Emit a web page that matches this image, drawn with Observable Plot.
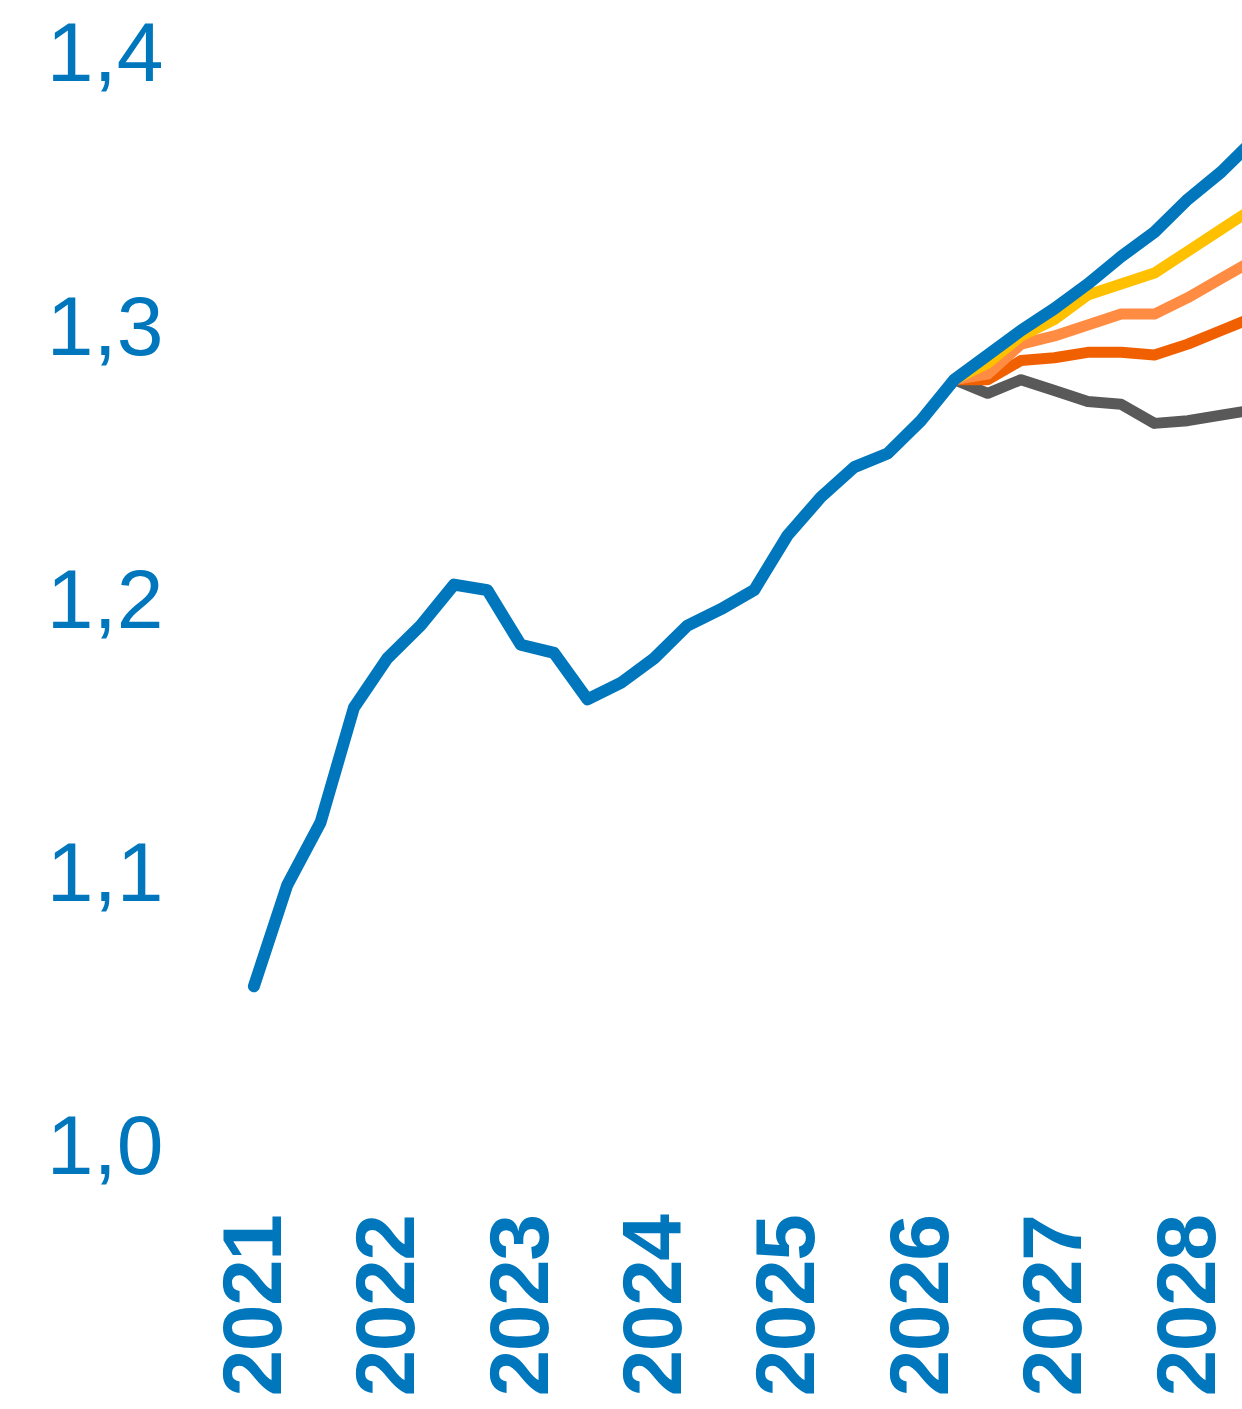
<!DOCTYPE html>
<html>
<head>
<meta charset="utf-8">
<script src="https://cdn.jsdelivr.net/npm/d3@7"></script>
<script src="https://cdn.jsdelivr.net/npm/@observablehq/plot@0.6"></script>
<style>
  html, body { margin: 0; padding: 0; background: #ffffff; }
  #chart svg { display: block; }
</style>
</head>
<body>
<div id="chart"></div>
<script>
// Quarters (decimal year) 2021Q1 .. 2028Q3
const quarters = [
  2021.00, 2021.25, 2021.50, 2021.75,
  2022.00, 2022.25, 2022.50, 2022.75,
  2023.00, 2023.25, 2023.50, 2023.75,
  2024.00, 2024.25, 2024.50, 2024.75,
  2025.00, 2025.25, 2025.50, 2025.75,
  2026.00, 2026.25, 2026.50, 2026.75,
  2027.00, 2027.25, 2027.50, 2027.75,
  2028.00, 2028.25, 2028.50
];
// Main (blue) series
const mainValues = [
  1.059, 1.096, 1.119, 1.161,
  1.179, 1.191, 1.206, 1.204,
  1.184, 1.181, 1.164, 1.170,
  1.179, 1.191, 1.197, 1.204,
  1.224, 1.238, 1.249, 1.254,
  1.266, 1.281, 1.290, 1.299,
  1.307, 1.316, 1.326, 1.335,
  1.347, 1.357, 1.369
];
// Scenario series, starting at 2026Q2 (index 21)
const scenarioStart = 21;
const yellowValues     = [1.281, 1.287, 1.297, 1.303, 1.312, 1.316, 1.320, 1.328, 1.336, 1.344];
const lightOrangeValues= [1.281, 1.283, 1.294, 1.297, 1.301, 1.305, 1.305, 1.311, 1.318, 1.325];
const darkOrangeValues = [1.281, 1.281, 1.288, 1.289, 1.291, 1.291, 1.290, 1.294, 1.299, 1.304];
const grayValues       = [1.281, 1.276, 1.281, 1.277, 1.273, 1.272, 1.265, 1.266, 1.268, 1.270];

const yTicks = [1.0, 1.1, 1.2, 1.3, 1.4];
const xTicks = [2021, 2022, 2023, 2024, 2025, 2026, 2027, 2028];

const seriesColors = {
  main: "#0077bd",
  yellow: "#ffc000",
  lightOrange: "#ff8c42",
  darkOrange: "#f06000",
  gray: "#595959"
};

const mainData = quarters.map((q, i) => ({q, v: mainValues[i]}));
const scen = (vals) => vals.map((v, i) => ({q: quarters[scenarioStart + i], v}));

const textColor = "#0077bd";

const chart = Plot.plot({
  width: 1242,
  height: 1409,
  marginLeft: 200,
  marginRight: 0,
  marginTop: 0,
  marginBottom: 209,
  style: {background: "#ffffff", fontFamily: "'Liberation Sans', Arial, sans-serif", overflow: "hidden"},
  x: {domain: [2020.6, 2028.41], axis: null},
  y: {domain: [0.9806, 1.41976], axis: null},
  marks: [
    Plot.axisY({
      ticks: yTicks,
      tickSize: 0,
      tickPadding: 37,
      tickFormat: d => d.toFixed(1).replace(".", ","),
      fontSize: 84,
      fill: textColor,
      label: null
    }),
    Plot.axisX({
      ticks: xTicks,
      tickSize: 0,
      tickPadding: 15,
      tickRotate: -90,
      tickFormat: d => String(d),
      fontSize: 84,
      fontWeight: "bold",
      fill: textColor,
      label: null
    }),
    Plot.line(scen(grayValues), {x: "q", y: "v", stroke: seriesColors.gray, strokeWidth: 11, clip: true}),
    Plot.line(scen(darkOrangeValues), {x: "q", y: "v", stroke: seriesColors.darkOrange, strokeWidth: 11, clip: true}),
    Plot.line(scen(lightOrangeValues), {x: "q", y: "v", stroke: seriesColors.lightOrange, strokeWidth: 11, clip: true}),
    Plot.line(scen(yellowValues), {x: "q", y: "v", stroke: seriesColors.yellow, strokeWidth: 11, clip: true}),
    Plot.line(mainData, {x: "q", y: "v", stroke: seriesColors.main, strokeWidth: 12, clip: true})
  ]
});
d3.select(chart).selectAll("g[aria-label='x-axis tick label'] text").style("letter-spacing", "-1.5px");
document.getElementById("chart").appendChild(chart);
</script>
</body>
</html>
